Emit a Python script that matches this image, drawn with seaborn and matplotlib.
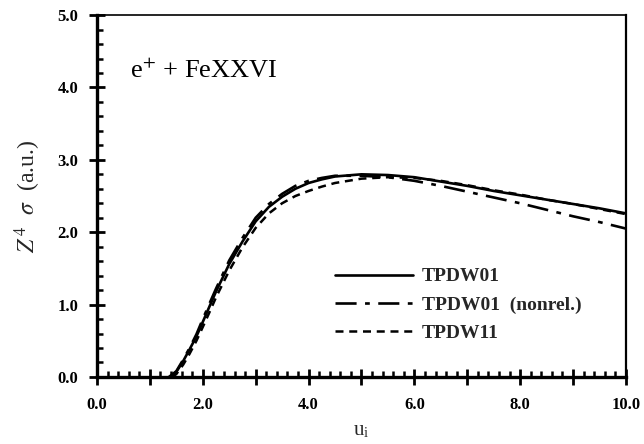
import numpy as np
import pandas as pd
import matplotlib
matplotlib.use("Agg")
import matplotlib.pyplot as plt
from matplotlib.ticker import MultipleLocator, FuncFormatter
import seaborn as sns

# Data
u_tpdw01 = [1.38, 1.5, 1.63, 1.75, 1.88, 2.0, 2.13, 2.25, 2.5, 2.75, 3.0, 3.25, 3.5, 3.75, 4.0, 4.25,
            4.5, 5.0, 5.5, 6.0, 6.5, 7.0, 7.5, 8.0, 8.5, 9.0, 9.5, 10.0]
s_tpdw01 = [0.0, 0.07, 0.22, 0.38, 0.56, 0.76, 0.98, 1.18, 1.56, 1.87, 2.15, 2.35, 2.49, 2.60, 2.68, 2.73,
            2.77, 2.80, 2.79, 2.76, 2.70, 2.64, 2.57, 2.51, 2.45, 2.39, 2.33, 2.26]

u_nonrel = [1.36, 1.5, 1.63, 1.75, 1.88, 2.0, 2.13, 2.25, 2.5, 2.75, 3.0, 3.25, 3.5, 3.75, 4.0, 4.25,
            4.5, 5.0, 5.5, 6.0, 6.5, 7.0, 7.5, 8.0, 8.5, 9.0, 9.5, 10.0]
s_nonrel = [0.0, 0.08, 0.24, 0.40, 0.59, 0.80, 1.02, 1.22, 1.61, 1.92, 2.20, 2.39, 2.53, 2.64, 2.71, 2.75,
            2.78, 2.78, 2.76, 2.71, 2.64, 2.56, 2.48, 2.40, 2.31, 2.22, 2.14, 2.05]

u_tpdw11 = [1.42, 1.5, 1.63, 1.75, 1.88, 2.0, 2.13, 2.25, 2.5, 2.75, 3.0, 3.25, 3.5, 3.75, 4.0, 4.25,
            4.5, 5.0, 5.5, 6.0, 6.5, 7.0, 7.5, 8.0, 8.5, 9.0, 9.5, 10.0]
s_tpdw11 = [0.0, 0.04, 0.17, 0.32, 0.50, 0.69, 0.90, 1.10, 1.47, 1.79, 2.06, 2.26, 2.40, 2.50, 2.57, 2.63,
            2.68, 2.74, 2.76, 2.75, 2.71, 2.65, 2.58, 2.52, 2.45, 2.39, 2.32, 2.25]

labels = ["TPDW01", "TPDW01  (nonrel.)", "TPDW11"]

sns.set_theme(style="ticks")
plt.rcParams["font.family"] = ["Liberation Serif", "DejaVu Serif"]
plt.rcParams["mathtext.fontset"] = "stix"

fig = plt.figure(figsize=(6.44, 4.44), dpi=100)
ax = fig.add_axes([0.1506, 0.151, 0.8214, 0.815])

styles = [
    ("-", 1.9),
    ((0, (8, 3.2, 1.8, 3.2)), 1.9),
    ((0, (3.2, 2.3)), 1.8),
]
for (u, s), lab, (ls, lw) in zip([(u_tpdw01, s_tpdw01), (u_nonrel, s_nonrel), (u_tpdw11, s_tpdw11)], labels, styles):
    df = pd.DataFrame({"u": u, "s": s})
    sns.lineplot(data=df, x="u", y="s", ax=ax, color="black", linestyle=ls, linewidth=lw,
                 label=lab, sort=False, estimator=None)

ax.set_xlim(0, 10)
ax.set_ylim(0, 5)

ax.xaxis.set_major_locator(MultipleLocator(1.0))
ax.xaxis.set_minor_locator(MultipleLocator(0.2))
ax.yaxis.set_major_locator(MultipleLocator(1.0))
ax.yaxis.set_minor_locator(MultipleLocator(0.2))
ax.xaxis.set_major_formatter(FuncFormatter(lambda v, p: f"{v:.1f}" if round(v) % 2 == 0 else ""))
ax.yaxis.set_major_formatter(FuncFormatter(lambda v, p: f"{v:.1f}"))

ax.tick_params(axis="both", which="major", direction="inout", length=11, width=2.0,
               labelsize=12, color="black", labelcolor="black")
ax.tick_params(axis="both", which="minor", direction="in", length=4, width=1.8, color="black")
ax.tick_params(axis="x", which="major", pad=9)
ax.tick_params(axis="y", which="major", pad=8)
for lab in ax.get_xticklabels() + ax.get_yticklabels():
    lab.set_fontweight("bold")

ax.spines["left"].set_linewidth(2.4)
ax.spines["bottom"].set_linewidth(2.4)
ax.spines["top"].set_linewidth(1.2)
ax.spines["right"].set_linewidth(1.6)
for sp in ax.spines.values():
    sp.set_color("black")

ax.set_xlabel(r"u$_\mathregular{i}$", fontsize=15, labelpad=6)
ax.set_ylabel(r"$Z^{\,4}\ \ \sigma$  (a.u.)", fontsize=17, labelpad=10)

ax.text(0.062, 0.845, r"e$^{+}$ + FeXXVI", transform=ax.transAxes, fontsize=19,
        ha="left", va="center", color="black")

leg = ax.legend(loc="upper left", bbox_to_anchor=(0.417, 0.35), frameon=False,
                handlelength=4.0, handletextpad=0.45, labelspacing=0.55,
                prop={"family": "Liberation Serif", "weight": "bold", "size": 14})

fig.savefig("out.png", dpi=100)
